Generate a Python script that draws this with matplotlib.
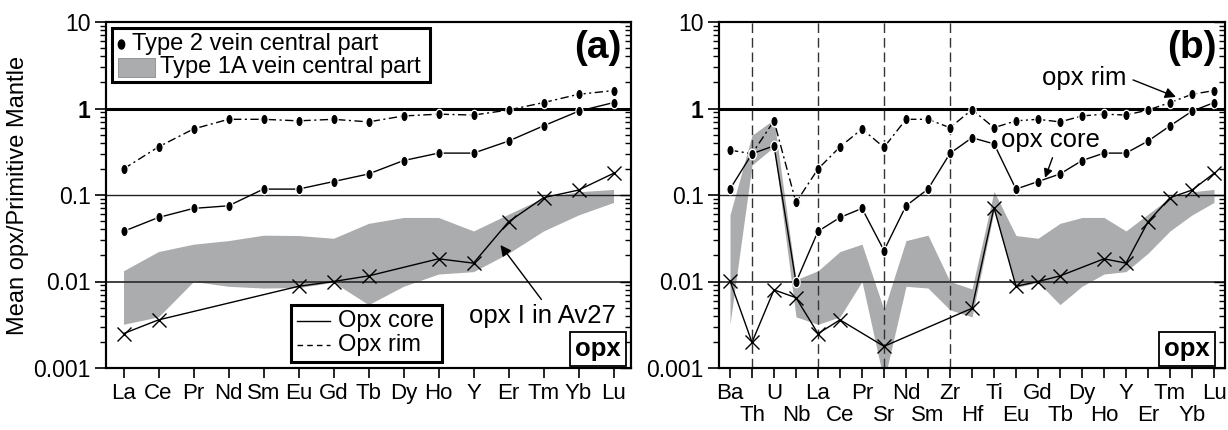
import numpy as np
import matplotlib
matplotlib.use('Agg')
import matplotlib.pyplot as plt
from matplotlib.patches import Rectangle
from matplotlib.path import Path
from matplotlib.ticker import LogLocator, FixedLocator, NullFormatter

plt.rcParams['font.family'] = ['Liberation Sans', 'DejaVu Sans']

# REE, used in panel (a) and at the end of panel (b)
ree = ['La', 'Ce', 'Pr', 'Nd', 'Sm', 'Eu', 'Gd', 'Tb', 'Dy', 'Ho', 'Y', 'Er', 'Tm', 'Yb', 'Lu']
ree_rim = [0.20, 0.36, 0.58, 0.75, 0.75, 0.72, 0.75, 0.70, 0.82, 0.86, 0.84, 0.96, 1.17, 1.46, 1.61]
ree_core = [0.038, 0.055, 0.070, 0.075, 0.117, 0.117, 0.143, 0.175, 0.25, 0.305, 0.305, 0.42, 0.63, 0.93, 1.17]
ree_av27 = [0.0025, 0.0036, None, None, None, 0.0088, 0.010, 0.0116, None, 0.0183, 0.0163, 0.049, 0.093, 0.114, 0.178]
ree_band_hi = [0.0133, 0.0222, 0.027, 0.0297, 0.0343, 0.034, 0.0316, 0.047, 0.055, 0.055, 0.0384, 0.060, 0.093, 0.109, 0.116]
ree_band_lo = [0.0032, 0.0039, 0.010, 0.0088, 0.0084, 0.0085, 0.0098, 0.0054, 0.0088, 0.0122, 0.013, 0.0212, 0.0384, 0.0588, 0.082]

# other trace elements only in panel (b)
trace = ['Ba', 'Th', 'U', 'Nb', 'Sr', 'Zr', 'Hf', 'Ti']
tr_rim = [0.33, 0.30, 0.72, 0.082, 0.355, 0.60, 0.97, 0.60]
tr_core = [0.117, 0.30, 0.37, 0.0098, 0.0228, 0.303, 0.459, 0.39]
tr_av27 = [0.0102, 0.00198, 0.0080, 0.0065, 0.00178, None, 0.0049, 0.0714]
tr_band_hi = [0.059, 0.49, 0.75, 0.0105, 0.0047, 0.0100, 0.0082, 0.11]
tr_band_lo = [0.0032, 0.222, 0.36, 0.0039, 0.0007, 0.0047, 0.0039, 0.065]

spider = ['Ba', 'Th', 'U', 'Nb', 'La', 'Ce', 'Pr', 'Sr', 'Nd', 'Sm', 'Zr', 'Hf', 'Ti',
          'Eu', 'Gd', 'Tb', 'Dy', 'Ho', 'Y', 'Er', 'Tm', 'Yb', 'Lu']
dashed_at = ['Th', 'La', 'Sr', 'Zr']

BAND = '#abacae'
t = np.linspace(0, 2 * np.pi, 40)
DOT = Path(np.column_stack([0.7 * np.cos(t), np.sin(t)]))
DASHDOT = (0, (6, 2.5, 1.5, 2.5))
ARROW = dict(arrowstyle='-|>', color='k', lw=1, mutation_scale=16, shrinkA=0, shrinkB=0)


def lookup(elems, ree_vals, tr_vals):
    d = dict(zip(ree, ree_vals))
    d.update(zip(trace, tr_vals))
    return [d[e] for e in elems]


def draw_panel(ax, elems):
    x = np.arange(len(elems))
    hi = lookup(elems, ree_band_hi, tr_band_hi)
    lo = lookup(elems, ree_band_lo, tr_band_lo)
    ax.fill_between(x, lo, hi, color=BAND, lw=0, zorder=1)

    ax.axhline(1, color='k', lw=2.2, zorder=2)
    ax.axhline(0.1, color='#222222', lw=1.0, zorder=2)
    ax.axhline(0.01, color='#333333', lw=1.3, zorder=2)

    rim = lookup(elems, ree_rim, tr_rim)
    core = lookup(elems, ree_core, tr_core)
    ax.plot(x, rim, color='k', lw=1, ls=DASHDOT, marker=DOT, ms=7.5,
            mec='white', mew=0.9, zorder=4)
    ax.plot(x, core, color='k', lw=1, marker=DOT, ms=7.5,
            mec='white', mew=0.9, zorder=4)

    av = lookup(elems, ree_av27, tr_av27)
    xs = [i for i, v in zip(x, av) if v is not None]
    ys = [v for v in av if v is not None]
    ax.plot(xs, ys, color='k', lw=1, marker='x', ms=10, mew=1, zorder=3)

    ax.set_yscale('log')
    ax.set_ylim(1e-3, 10)
    ax.set_xlim(-0.5, len(elems) - 0.5)
    ax.set_yticks([1e-3, 1e-2, 1e-1, 1, 10])
    ax.set_yticklabels(['0.001', '0.01', '0.1', '1', '10'], fontsize=16.5)
    ax.get_yticklabels()[3].set_fontweight('bold')
    ax.yaxis.set_minor_locator(LogLocator(base=10, subs=np.arange(2, 10)))
    ax.yaxis.set_minor_formatter(NullFormatter())
    ax.tick_params(axis='y', which='major', direction='out', length=8, width=1.2, pad=3)
    ax.tick_params(axis='y', which='minor', direction='out', length=4.3, width=1.0)
    ax.tick_params(axis='x', which='both', direction='out', length=7.5, width=1.2,
                   pad=3.5, labelsize=16)
    for s in ax.spines.values():
        s.set_linewidth(1.5)

    # inward ticks on the right side
    ax2 = ax.twinx()
    ax2.set_yscale('log')
    ax2.set_ylim(1e-3, 10)
    ax2.yaxis.set_major_locator(FixedLocator([1e-3, 1e-2, 1e-1, 1, 10]))
    ax2.yaxis.set_minor_locator(LogLocator(base=10, subs=np.arange(2, 10)))
    ax2.tick_params(which='both', direction='in', labelright=False, width=1.0)
    ax2.tick_params(which='major', length=8)
    ax2.tick_params(which='minor', length=4.3)
    for s in ax2.spines.values():
        s.set_linewidth(1.5)


fig = plt.figure(figsize=(12.28, 4.30), dpi=100)
ax_a = fig.add_axes([106 / 1228, 62 / 430, 525 / 1228, 346 / 430])
ax_b = fig.add_axes([719 / 1228, 62 / 430, 506 / 1228, 346 / 430])

# ---- panel (a)
draw_panel(ax_a, ree)
ax_a.set_xticks(np.arange(len(ree)))
ax_a.set_xticklabels(ree)
ax_a.set_ylabel('Mean opx/Primitive Mantle', fontsize=17, labelpad=3)

# top legend (drawn by hand: bullet row and patch row)
ta = ax_a.transAxes
def fa(px, py):
    return (px - 106) / 525, (368 - py) / 346

x0, y0 = fa(112, 82)
ax_a.add_patch(Rectangle((x0, y0), (430 - 112) / 525, (82 - 28) / 346, transform=ta,
                         fc='white', ec='k', lw=2.2, zorder=6))
ax_a.plot(*fa(121, 44), marker=DOT, ms=6.5, color='k', transform=ta, zorder=7, clip_on=False)
ax_a.text(*fa(132, 44), 'Type 2 vein central part', fontsize=17, va='center', ha='left',
          transform=ta, zorder=7)
px0, py0 = fa(118, 77)
ax_a.add_patch(Rectangle((px0, py0), (155 - 118) / 525, (77 - 58) / 346, transform=ta,
                         fc=BAND, ec='#8a8a8a', lw=0.6, zorder=7))
ax_a.text(*fa(160, 67), 'Type 1A vein central part', fontsize=17, va='center', ha='left',
          transform=ta, zorder=7)

# bottom legend
x0, y0 = fa(291, 362)
ax_a.add_patch(Rectangle((x0, y0), (442 - 291) / 525, (362 - 305) / 346, transform=ta,
                         fc='white', ec='k', lw=2.2, zorder=6))
lx1, ly1 = fa(297, 321)
lx2, _ = fa(330, 321)
ax_a.plot([lx1, lx2], [ly1, ly1], color='k', lw=1, transform=ta, zorder=7)
ax_a.text(*fa(338, 321), 'Opx core', fontsize=17, va='center', ha='left', transform=ta, zorder=7)
_, ly2 = fa(297, 345)
ax_a.plot([lx1, lx2], [ly2, ly2], color='k', lw=1, ls=(0, (4, 3)), transform=ta, zorder=7)
ax_a.text(*fa(338, 345), 'Opx rim', fontsize=17, va='center', ha='left', transform=ta, zorder=7)

ax_a.text(11.96, 0.0040, 'opx I in Av27', fontsize=18.5, ha='center', va='center', zorder=7)
ax_a.annotate('', xy=(10.77, 0.0264), xytext=(11.94, 0.0062), arrowprops=ARROW, zorder=7)
ax_a.text(0.937, 0.925, '(a)', transform=ta, fontsize=28, fontweight='bold',
          ha='center', va='center', zorder=7)
ax_a.text(0.937, 0.055, 'opx', transform=ta, fontsize=18.5, fontweight='bold',
          ha='center', va='center', zorder=7,
          bbox=dict(boxstyle='square,pad=0.2', fc='white', ec='k', lw=1.3))

# ---- panel (b)
draw_panel(ax_b, spider)
for e in dashed_at:
    ax_b.axvline(spider.index(e), color='#333333', lw=1, ls=(0, (7, 3.5)), zorder=2)
# two rows of labels: even positions as major ticks, odd ones as minor ticks pushed lower
pos = np.arange(len(spider))
ax_b.set_xticks(pos[::2])
ax_b.set_xticklabels(spider[::2])
ax_b.set_xticks(pos[1::2], minor=True)
ax_b.set_xticklabels(spider[1::2], minor=True)
ax_b.tick_params(axis='x', which='minor', pad=19)

tb = ax_b.transAxes
ax_b.text(16.09, 2.25, 'opx rim', fontsize=18.5, ha='center', va='center', zorder=7)
ax_b.annotate('', xy=(20.27, 1.36), xytext=(18.32, 2.14), arrowprops=ARROW, zorder=7)
ax_b.text(14.55, 0.433, 'opx core', fontsize=18.5, ha='center', va='center', zorder=7)
ax_b.annotate('', xy=(14.32, 0.158), xytext=(14.66, 0.27),
              arrowprops=dict(ARROW, mutation_scale=13), zorder=7)
ax_b.text(0.935, 0.925, '(b)', transform=tb, fontsize=28, fontweight='bold',
          ha='center', va='center', zorder=7)
ax_b.text(0.925, 0.055, 'opx', transform=tb, fontsize=18.5, fontweight='bold',
          ha='center', va='center', zorder=7,
          bbox=dict(boxstyle='square,pad=0.2', fc='white', ec='k', lw=1.3))

fig.savefig('out.png', dpi=100)
